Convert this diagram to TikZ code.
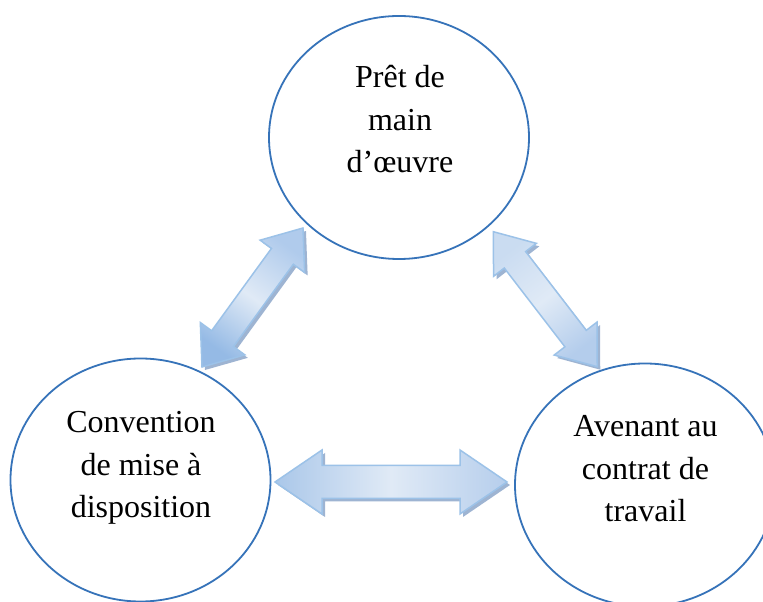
\documentclass[tikz,border=0pt]{standalone}
\usepackage{fontspec}
\setmainfont{Liberation Serif}
\usetikzlibrary{shapes.geometric}
\definecolor{circ}{HTML}{3673B9}
\definecolor{arrline}{HTML}{9CC2E8}
\definecolor{arrshadow}{HTML}{8EA8CB}
\definecolor{arrmid}{HTML}{E0EAF6}
\definecolor{lA}{HTML}{95BAE5}
\definecolor{lB}{HTML}{B0CBEC}
\definecolor{hA}{HTML}{AAC7E9}
\definecolor{hB}{HTML}{B6CEEC}
\definecolor{rA}{HTML}{CADCF1}
\definecolor{rB}{HTML}{B4CDEC}
\newcommand{\BlockArrow}[8]{%
  % #1 start coordinate, #2 angle, #3 length, #4 head length, #5 head half width, #6 shaft half width, #7 colour at start, #8 colour at end
  \begin{scope}[shift={(#1)},xshift=3pt,yshift=-3pt,rotate=#2]
    \fill[arrshadow,opacity=0.85] (0,0) -- (#4,#5) -- (#4,#6) -- ({#3-#4},#6) -- ({#3-#4},#5) -- (#3,0) -- ({#3-#4},-#5) -- ({#3-#4},-#6) -- (#4,-#6) -- (#4,-#5) -- cycle;
  \end{scope}
  \begin{scope}[shift={(#1)},rotate=#2]
    \path[draw=arrline,line width=1.5pt,line join=miter,bottom color=#7,top color=#8,middle color=arrmid,shading angle={#2-90}]
      (0,0) -- (#4,#5) -- (#4,#6) -- ({#3-#4},#6) -- ({#3-#4},#5) -- (#3,0) -- ({#3-#4},-#5) -- ({#3-#4},-#6) -- (#4,-#6) -- (#4,-#5) -- cycle;
  \end{scope}}
\begin{document}
\begin{tikzpicture}[x=1pt,y=1pt,
  bubble/.style={ellipse,draw=circ,line width=1.8pt,minimum width=260pt,minimum height=243pt,inner sep=0pt},
  txt/.style={font=\fontsize{32}{42.5}\selectfont,inner sep=0pt,anchor=base}]
\useasboundingbox (0,0) rectangle (763,602);
\clip (0,0) rectangle (763,602);
\fill[white] (0,0) rectangle (763,602);
% circles
\node[bubble] (pret) at (399,464.5) {};
\node[bubble] (conv) at (140.5,122) {};
\node[bubble] (aven) at (645,117) {};
% texts
\node[txt] (tpret) at (400,514) {\begin{tabular}[t]{@{}c@{}}Prêt de\\main\\d’œuvre\end{tabular}};
\node[txt] (tconv) at (141,169) {\begin{tabular}[t]{@{}c@{}}Convention\\de mise à\\disposition\end{tabular}};
\node[txt] (taven) at (645.5,165) {\begin{tabular}[t]{@{}c@{}}Avenant au\\contrat de\\travail\end{tabular}};
% arrow end points
\coordinate (la) at (202,235);
\coordinate (lb) at (303,374);
\coordinate (ha) at (275,120);
\coordinate (hb) at (507,120);
\coordinate (ra) at (493.3,370.3);
\coordinate (rb) at (597.3,235.3);
\BlockArrow{la}{54}{171.8}{35}{27.5}{13.5}{lA}{lB}
\BlockArrow{ha}{0}{232}{47}{32}{16.5}{hA}{hB}
\BlockArrow{ra}{-52.4}{170.4}{35.5}{27}{13.5}{rA}{rB}
\end{tikzpicture}
\end{document}
